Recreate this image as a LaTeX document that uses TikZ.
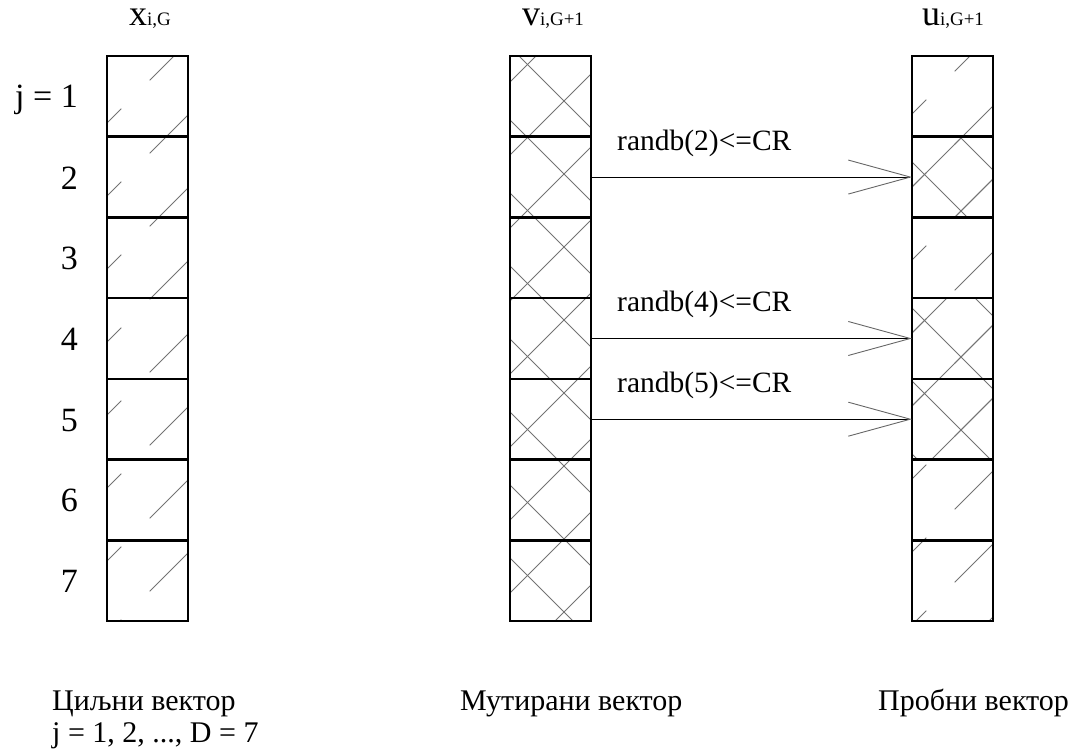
\documentclass[tikz,border=0pt]{standalone}
\usepackage{fontspec}
\setmainfont{Liberation Serif}
\usetikzlibrary{arrows.meta}
\tikzset{
  cell/.style={draw=black, line width=2.6pt, minimum width=81pt, minimum height=80.71pt, inner sep=0pt, outer sep=0pt},
  hatch/.style={draw=black!55, line width=0.9pt},
  brokenhatch/.style={hatch, dash pattern=on 75pt off 40pt},
  conn/.style={draw=black, line width=0.9pt, -{Straight Barb[length=62pt, width=34pt, line width=0.9pt, black!60]}},
  numlbl/.style={anchor=base east, inner sep=0pt, font=\fontsize{34}{34}\selectfont},
  arrlbl/.style={anchor=base west, inner sep=0pt, font=\fontsize{29.5}{29.5}\selectfont},
  botlbl/.style={anchor=base west, inner sep=0pt, font=\fontsize{30}{30}\selectfont},
  head/.style={anchor=base, inner sep=0pt}
}
% forward hatch: lines x+y=c ; args: x0,x1,y0,y1,offset,style
\newcommand{\hatchfw}[6]{%
  \begin{scope}
    \clip (#1,#3) rectangle (#2,#4);
    \foreach \k in {0,...,24}{%
      \pgfmathsetmacro\cc{#5+73*\k}
      \draw[#6] ({#1-120},{\cc-#1+120}) -- ({#2+120},{\cc-#2-120});
    }
  \end{scope}}
% backward hatch: lines x-y=d ; args: x0,x1,y0,y1,offset,style
\newcommand{\hatchbw}[6]{%
  \begin{scope}
    \clip (#1,#3) rectangle (#2,#4);
    \foreach \k in {0,...,24}{%
      \pgfmathsetmacro\dd{#5-73*\k+1000}
      \draw[#6] ({#1-120},{#1-120-\dd}) -- ({#2+120},{#2+120-\dd});
    }
  \end{scope}}
\begin{document}
\begin{tikzpicture}[x=1pt, y=-1pt]
\useasboundingbox (0,0) rectangle (1072,751);
\def\rh{80.71}
% ---- hatching ----
% x column
\hatchfw{107}{188}{56}{621}{11}{brokenhatch}
% v column
\hatchfw{510}{591}{56}{621}{8}{hatch}
\hatchbw{510}{591}{56}{621}{47}{hatch}
% u column: single hatch rows 1,3,6,7 ; cross rows 2,4,5
\hatchfw{912}{993}{56}{621}{4}{brokenhatch}
\hatchbw{912}{993}{136.71}{217.42}{42}{hatch}
\hatchbw{912}{993}{298.13}{459.55}{42}{hatch}
\begin{scope}
  \clip (912,136.71) rectangle (993,217.42) (912,298.13) rectangle (993,459.55);
  \hatchfw{912}{993}{56}{621}{4}{hatch}
\end{scope}
% ---- cells ----
\foreach \r in {1,...,7}{
  \pgfmathsetmacro\cy{56+\rh*(\r-0.5)}
  \node[cell] (x\r) at (147.5,\cy) {};
  \node[cell] (v\r) at (550.5,\cy) {};
  \node[cell] (u\r) at (952.5,\cy) {};
}
% ---- headers ----
\node[head] (hx) at (150,26) {\fontsize{36}{36}\selectfont x\fontsize{19}{19}\selectfont i,G};
\node[head] (hv) at (553,26) {\fontsize{36}{36}\selectfont v\fontsize{19}{19}\selectfont i,G+1};
\node[head] (hu) at (953,26) {\fontsize{36}{36}\selectfont u\fontsize{19}{19}\selectfont i,G+1};
% ---- row numbers ----
\node[numlbl] (n1) at (78,108) {j = 1};
\foreach \r in {2,...,7}{
  \pgfmathsetmacro\by{56+\rh*(\r-0.5)+12}
  \node[numlbl] (n\r) at (78,\by) {\r};
}
% ---- connectors ----
\draw[conn] (v2.east) -- (u2.west);
\draw[conn] (v4.east) -- (u4.west);
\draw[conn] (v5.east) -- (u5.west);
\node[arrlbl] (l2) at (617,151) {randb(2)<=CR};
\node[arrlbl] (l4) at (617,312) {randb(4)<=CR};
\node[arrlbl] (l5) at (617,393) {randb(5)<=CR};
% ---- bottom labels ----
\node[botlbl] (bx) at (52,710) {Циљни вектор};
\node[botlbl] (bx2) at (52,742) {j = 1, 2, ..., D = 7};
\node[botlbl] (bv) at (460,710) {Мутирани вектор};
\node[botlbl] (bu) at (878,710) {Пробни вектор};
\end{tikzpicture}
\end{document}
